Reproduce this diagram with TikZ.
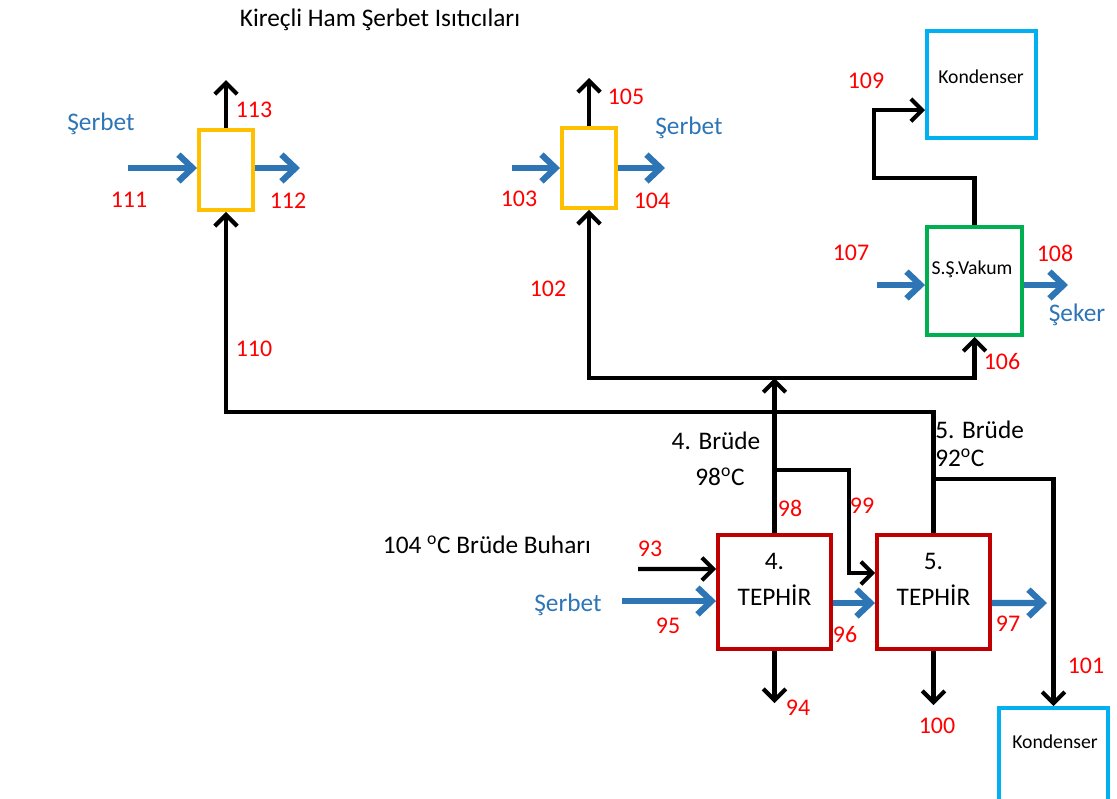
\documentclass[tikz,border=0pt]{standalone}
\usepackage{fontspec}
\setmainfont{Carlito}
\usepackage{xcolor}
\usetikzlibrary{arrows.meta}
\definecolor{flowblue}{RGB}{46,117,182}
\definecolor{heatyellow}{RGB}{255,192,0}
\definecolor{tephred}{RGB}{192,0,0}
\definecolor{vacgreen}{RGB}{0,176,80}
\definecolor{kondcyan}{RGB}{0,176,240}

\begin{document}
\begin{tikzpicture}[
  x=0.025cm, y=-0.025cm,
  every node/.style={inner sep=0pt},
  heater/.style={draw=heatyellow,line width=2.8pt,minimum width=1.35cm,minimum height=2cm},
  tephir/.style={draw=tephred,line width=2.8pt,minimum width=2.825cm,minimum height=2.85cm},
  vakum/.style={draw=vacgreen,line width=2.8pt,minimum width=2.375cm,minimum height=2.7cm},
  kond/.style={draw=kondcyan,line width=2.8pt,minimum width=2.725cm,minimum height=2.675cm},
  blk/.style={line width=2.9pt,-{Straight Barb[length=8pt,width=16pt]}},
  blu/.style={draw=flowblue,line width=4.4pt,-{Straight Barb[length=10pt,width=19pt]}},
  num/.style={text=red,font=\fontsize{17}{20}\selectfont},
  lbl/.style={font=\fontsize{18}{25.6}\selectfont},
  blulbl/.style={lbl,text=flowblue},
  small/.style={font=\fontsize{14}{16}\selectfont}
]
\useasboundingbox (0,0) rectangle (1117,798);
\clip (0,0) rectangle (1117,798);

% units
\node[heater] (h1) at (226,170) {};
\node[heater] (h2) at (589,168) {};
\node[kond] (k1) at (981.5,84.5) {};
\node[vakum] (vak) at (974.5,281) {};
\node[tephir] (t4) at (774.5,592) {};
\node[tephir] (t5) at (933.5,592) {};
\node[kond] (k2) at (1053.5,761.5) {};

% texts
\node[lbl] (title) at (380,20) {Kireçli Ham Şerbet Isıtıcıları};
\node[small] (k1txt) at (981,77) {Kondenser};
\node[small] (k2txt) at (1055,742) {Kondenser};
\node[small] (vaktxt) at (972,269) {S.Ş.Vakum};
\node[lbl,align=center] (t4txt) at (774.5,579) {4.\\TEPHİR};
\node[lbl,align=center] (t5txt) at (933.5,579) {5.\\TEPHİR};
\node[lbl] (br4) at (716,441) {4. Brüde};
\node[lbl] (br4t) at (720,477) {98\textsuperscript{o}C};
\node[lbl,anchor=west,align=left,font=\fontsize{18}{20}\selectfont] (br5) at (935,444) {5. Brüde\\92\textsuperscript{o}C};
\node[lbl] (buhar) at (487,545) {104 \textsuperscript{o}C Brüde Buharı};
\node[blulbl] (sb1) at (101,124) {Şerbet};
\node[blulbl] (sb2) at (689,128) {Şerbet};
\node[blulbl] (sb3) at (568,605) {Şerbet};
\node[blulbl] (seker) at (1077,315) {Şeker};

% stream numbers
\node[num] (n113) at (254,110) {113};
\node[num] (n111) at (129,200) {111};
\node[num] (n112) at (288,201) {112};
\node[num] (n110) at (254,349) {110};
\node[num] (n105) at (626,97) {105};
\node[num] (n103) at (519,199) {103};
\node[num] (n104) at (652,201) {104};
\node[num] (n102) at (548,289) {102};
\node[num] (n109) at (866,81) {109};
\node[num] (n107) at (851,253) {107};
\node[num] (n108) at (1055,253) {108};
\node[num] (n106) at (1002,362) {106};
\node[num] (n98) at (790,508) {98};
\node[num] (n99) at (862,506) {99};
\node[num] (n93) at (650,549) {93};
\node[num] (n95) at (668,626) {95};
\node[num] (n96) at (845,635) {96};
\node[num] (n97) at (1008,624) {97};
\node[num] (n94) at (798,708) {94};
\node[num] (n100) at (937,726) {100};
\node[num] (n101) at (1086,666) {101};

% free ends and bends
\coordinate (e113) at (226,80);
\coordinate (e105) at (589,78);
\coordinate (s111) at (128,168);
\coordinate (e112) at (300,168);
\coordinate (s103) at (512,168);
\coordinate (e104) at (665,168);
\coordinate (s107) at (877,285);
\coordinate (e108) at (1068,285);
\coordinate (c109) at (874,178);
\coordinate (split) at (774.5,378);
\coordinate (c110) at (226,412);
\coordinate (b99) at (774.5,470);
\coordinate (k99) at (849,470);
\coordinate (b101) at (933.5,479);
\coordinate (e93) at (638,569);
\coordinate (s95) at (622,601);
\coordinate (e97) at (1047,603);
\coordinate (e94) at (774.5,703);
\coordinate (e100) at (933.5,705);

% vapour
\draw[blk] (h1.north) -- (e113);
\draw[blk] (h2.north) -- (e105);
\draw[blk] (vak.north) |- (c109) |- ([yshift=-0.64cm]k1.west);
\draw[blk] (t4.north) -- (split);
\draw[blk] (split) -| (h2.south);
\draw[blk] (split) -| (vak.south);
\draw[blk] (t5.north) |- (c110) -- (h1.south);
\draw[blk] (b99) -- (k99) |- ([yshift=0.475cm]t5.west);
\draw[blk] (b101) -| (k2.north);
\draw[blk] (e93) -- ([yshift=0.575cm]t4.west);
\draw[blk] (t4.south) -- (e94);
\draw[blk] (t5.south) -- (e100);

% juice
\draw[blu] (s111) -- (h1.west |- s111);
\draw[blu] (h1.east |- e112) -- (e112);
\draw[blu] (s103) -- (h2.west);
\draw[blu] (h2.east) -- (e104);
\draw[blu] (s107) -- (vak.west |- s107);
\draw[blu] (vak.east |- e108) -- (e108);
\draw[blu] (s95) -- (t4.west |- s95);
\draw[blu] ([yshift=-0.275cm]t4.east) -- ([yshift=-0.275cm]t5.west);
\draw[blu] ([yshift=-0.275cm]t5.east) -- (e97);
\end{tikzpicture}
\end{document}
